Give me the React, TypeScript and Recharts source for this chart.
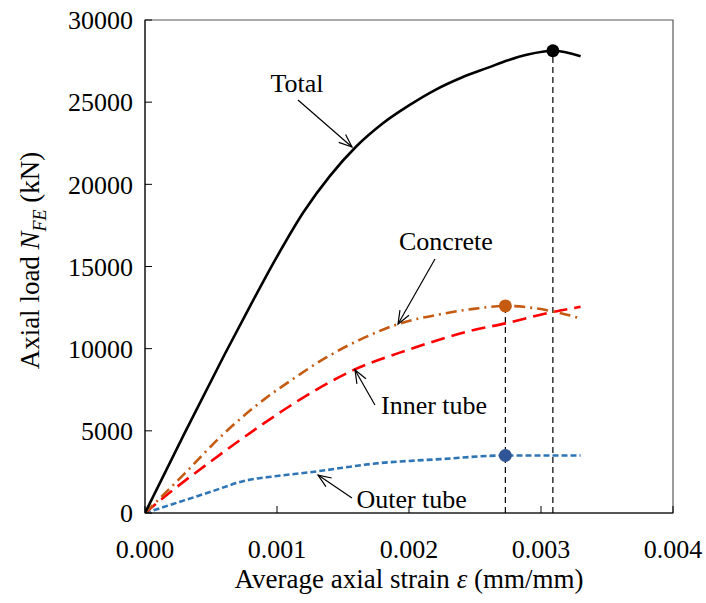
import React from 'react';
import { LineChart, Line, XAxis, YAxis, ReferenceLine, ReferenceDot, ReferenceArea } from 'recharts';

const FONT = '"Liberation Serif", "Times New Roman", serif';

const xTicks = [0, 0.001, 0.002, 0.003, 0.004];
const yTicks = [0, 5000, 10000, 15000, 20000, 25000, 30000];

// strain (mm/mm) and load (kN)
const totalStrain = [0, 0.0003, 0.0006, 0.0008, 0.001, 0.0012, 0.0014, 0.0016, 0.0018, 0.002, 0.0022, 0.0024, 0.0026, 0.00275, 0.0029, 0.00309, 0.0033];
const totalLoad = [0, 4860, 9600, 12650, 15600, 18300, 20500, 22300, 23700, 24800, 25750, 26500, 27100, 27550, 27900, 28130, 27800];

const concreteStrain = [0, 0.0003, 0.0006, 0.0009, 0.00113, 0.00138, 0.00163, 0.00192, 0.00224, 0.00249, 0.00273, 0.0031, 0.0033];
const concreteLoad = [0, 2400, 4850, 6900, 8200, 9500, 10550, 11500, 12100, 12420, 12600, 12250, 11840];

const innerStrain = [0, 0.000164, 0.0005, 0.0009, 0.00117, 0.00158, 0.00199, 0.00249, 0.00273, 0.0031, 0.0033];
const innerLoad = [0, 1095, 3150, 5450, 6880, 8700, 9920, 11130, 11540, 12250, 12550];

const outerStrain = [0, 0.00047, 0.00077, 0.001, 0.0013, 0.00173, 0.00224, 0.00273, 0.0033];
const outerLoad = [0, 1215, 1985, 2250, 2530, 3000, 3280, 3500, 3500];

// peak points
const peakStrainTubes = 0.00273;
const peakStrainTotal = 0.00309;
const peakConcrete = 12600;
const peakOuter = 3500;
const peakTotal = 28130;

// annotations: text, text anchor, arrow start, arrow tip
const noteText = ['Total', 'Concrete', 'Inner tube', 'Outer tube'];
const noteAt = [[0.001152, 25620], [0.00228, 16000], [0.00219, 6020], [0.00202, 304]];
const arrowFrom = [[0.001159, 25130], [0.002197, 15460], [0.001742, 6570], [0.001568, 913]];
const arrowTo = [[0.001568, 22270], [0.001917, 11500], [0.001591, 8700], [0.001311, 2310]];

const toPoints = (xs: number[], ys: number[]) => xs.map((x, i) => ({ x, y: ys[i] }));

const Arrow = (p: any) => {
  const { x1, y1, x2, y2 } = p;
  const a = Math.atan2(y2 - y1, x2 - x1);
  const len = 14;
  const w = 0.38;
  const h1 = `${x2 - len * Math.cos(a - w)},${y2 - len * Math.sin(a - w)}`;
  const h2 = `${x2 - len * Math.cos(a + w)},${y2 - len * Math.sin(a + w)}`;
  return (
    <g>
      <line x1={x1} y1={y1} x2={x2} y2={y2} stroke="#000" strokeWidth={1.2} />
      <polyline points={`${h1} ${x2},${y2} ${h2}`} fill="none" stroke="#000" strokeWidth={1.2} />
    </g>
  );
};

const noteShape = (text: string) => (p: any) => (
  <text x={p.cx} y={p.cy} textAnchor="middle" fontFamily={FONT} fontSize={26} fill="#000">
    {text}
  </text>
);

const XTitle = (props: any) => {
  const vb = props.viewBox || { x: 145, y: 513, width: 528 };
  return (
    <text x={vb.x + vb.width / 2} y={vb.y + 75} textAnchor="middle" fontFamily={FONT} fontSize={27} fill="#000">
      Average axial strain{' '}
      <tspan fontStyle="italic">ε</tspan> (mm/mm)
    </text>
  );
};

const YTitle = (props: any) => {
  const vb = props.viewBox || { x: 65, y: 20, height: 493 };
  const cx = vb.x - 35;
  const cy = vb.y + vb.height / 2 - 6;
  return (
    <text
      transform={`translate(${cx},${cy}) rotate(-90)`}
      x={0}
      y={0}
      dy="0.35em"
      textAnchor="middle"
      fontFamily={FONT}
      fontSize={27}
      fill="#000"
    >
      Axial load{' '}
      <tspan fontStyle="italic">N</tspan>
      <tspan fontStyle="italic" fontSize={18} dy={7}>FE</tspan>
      <tspan dy={-7}> (kN)</tspan>
    </text>
  );
};

const tickStyle = { fill: '#000', fontSize: 26, fontFamily: FONT };

export default function App() {
  return (
    <div style={{ position: 'absolute', left: 0, top: 0, width: 706, height: 603, background: '#fff' }}>
      <LineChart width={706} height={603} margin={{ top: 20, right: 33, bottom: 30, left: 65 }}>
        <XAxis
          type="number"
          dataKey="x"
          domain={[0, 0.004]}
          ticks={xTicks}
          interval={0}
          tickFormatter={(v: number) => v.toFixed(3)}
          tickSize={-7}
          tickMargin={34}
          height={60}
          stroke="#000"
          tick={tickStyle}
          allowDataOverflow
          label={XTitle}
        />
        <YAxis
          type="number"
          domain={[0, 30000]}
          ticks={yTicks}
          interval={0}
          tickSize={-7}
          tickMargin={19}
          width={80}
          stroke="#000"
          tick={tickStyle}
          allowDataOverflow
          label={YTitle}
        />
        <ReferenceArea x1={0} x2={0.004} y1={0} y2={30000} fill="none" stroke="#595959" strokeWidth={1.2} />

        <ReferenceLine
          segment={[{ x: peakStrainTubes, y: 0 }, { x: peakStrainTubes, y: peakConcrete }]}
          stroke="#000"
          strokeWidth={1.2}
          strokeDasharray="6 4"
        />
        <ReferenceLine
          segment={[{ x: peakStrainTotal, y: 0 }, { x: peakStrainTotal, y: peakTotal }]}
          stroke="#000"
          strokeWidth={1.2}
          strokeDasharray="6 4"
        />

        <Line data={toPoints(outerStrain, outerLoad)} dataKey="y" type="monotone" stroke="#2E75B6" strokeWidth={2.6} strokeDasharray="6 3" dot={false} isAnimationActive={false} />
        <Line data={toPoints(innerStrain, innerLoad)} dataKey="y" type="monotone" stroke="#FF0000" strokeWidth={2.6} strokeDasharray="14 7" dot={false} isAnimationActive={false} />
        <Line data={toPoints(concreteStrain, concreteLoad)} dataKey="y" type="monotone" stroke="#C55A11" strokeWidth={2.6} strokeDasharray="11 5 2 5" dot={false} isAnimationActive={false} />
        <Line data={toPoints(totalStrain, totalLoad)} dataKey="y" type="monotone" stroke="#000" strokeWidth={2.6} dot={false} isAnimationActive={false} />

        <ReferenceDot x={peakStrainTotal} y={peakTotal} r={6.5} fill="#000" stroke="none" />
        <ReferenceDot x={peakStrainTubes} y={peakConcrete} r={6.5} fill="#C55A11" stroke="none" />
        <ReferenceDot x={peakStrainTubes} y={peakOuter} r={6.5} fill="#2F5597" stroke="none" />

        {noteText.map((t, i) => (
          <ReferenceLine
            key={`arrow-${t}`}
            segment={[{ x: arrowFrom[i][0], y: arrowFrom[i][1] }, { x: arrowTo[i][0], y: arrowTo[i][1] }]}
            shape={Arrow}
          />
        ))}
        {noteText.map((t, i) => (
          <ReferenceDot key={`note-${t}`} x={noteAt[i][0]} y={noteAt[i][1]} r={1} shape={noteShape(t)} />
        ))}
      </LineChart>
    </div>
  );
}
